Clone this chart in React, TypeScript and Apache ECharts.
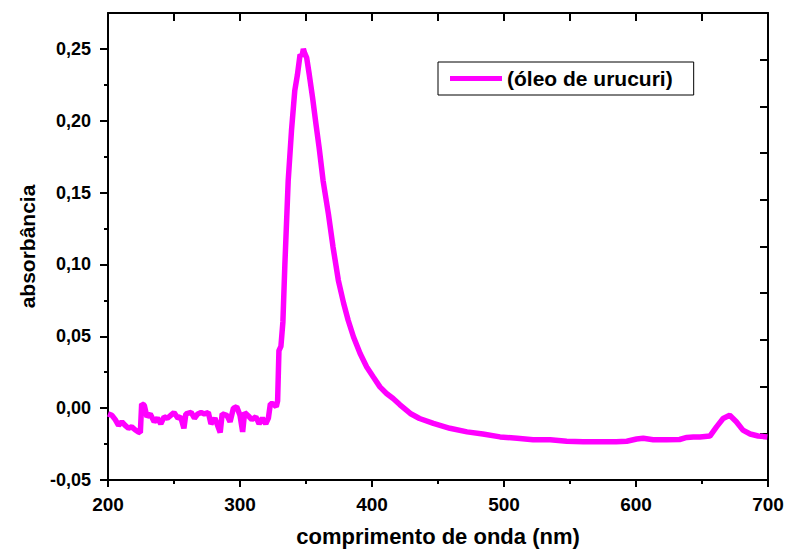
import React, { useEffect, useRef } from 'react';
import * as echarts from 'echarts';

// wavelength (nm)
const wavelength = [
  200, 203, 205.5, 208, 210.5, 213, 215.5, 218, 220.5, 223, 224.5, 225.5, 227.5, 229.5, 232, 235,
  237.5, 240, 242.5, 245, 247.5, 250, 253, 255, 257.5, 259, 263, 265.5, 268, 270.5, 273, 276,
  278, 281, 283, 285, 286.5, 290, 292.5, 295, 297.5, 300, 302, 303.5, 307, 309, 312, 314.5,
  317, 319.5, 321.5, 323, 325, 327.5, 328.5, 329.5, 331, 332.5, 334, 336.5, 339, 341.5, 343.5,
  345.5, 347, 348, 349, 350.5, 352.5, 355, 357.5, 360, 363, 367, 370.5, 374.5, 378.5, 382,
  386, 391, 396, 401, 406, 411, 416, 421, 429, 436, 446.5, 459, 472, 484, 497, 510, 522, 535,
  547.5, 560, 573, 585, 593, 600.5, 605.5, 613, 623, 633, 638.5, 643.5, 648.5, 656, 661, 666,
  671, 676, 681, 686.5, 692.5, 699.5,
];

// absorbance
const absorbance = [
  -0.004, -0.005, -0.008, -0.012, -0.0095, -0.012, -0.014, -0.013, -0.015, -0.0165, -0.017, 0.003,
  0.002, -0.006, -0.004, -0.0095, -0.007, -0.011, -0.006, -0.007, -0.005, -0.003, -0.007, -0.006,
  -0.014, -0.004, -0.003, -0.007, -0.004, -0.003, -0.004, -0.003, -0.011, -0.007, -0.012, -0.017,
  -0.004, -0.005, -0.0095, 0.0, 0.001, -0.005, -0.0165, -0.003, -0.006, -0.008, -0.006, -0.011,
  -0.007, -0.011, -0.007, 0.003, 0.003, 0.001, 0.005, 0.04, 0.043, 0.06, 0.1, 0.158, 0.193,
  0.221, 0.232, 0.246, 0.245, 0.25, 0.247, 0.244, 0.232, 0.216, 0.198, 0.181, 0.158, 0.135,
  0.112, 0.089, 0.073, 0.061, 0.0495, 0.038, 0.0287, 0.0217, 0.0148, 0.0102, 0.0067, 0.0025,
  -0.0037, -0.0072, -0.0106, -0.014, -0.0165, -0.018, -0.02, -0.021, -0.022, -0.022, -0.023,
  -0.0234, -0.0234, -0.0234, -0.023, -0.0215, -0.021, -0.022, -0.022, -0.0218, -0.0204, -0.02,
  -0.02, -0.0194, -0.013, -0.0072, -0.005, -0.0095, -0.0153, -0.018, -0.0194, -0.02,
];

const xTickLabels = [200, 300, 400, 500, 600, 700];
const yTickValues = [-0.05, 0, 0.05, 0.1, 0.15, 0.2, 0.25];
const yMinorValues = [-0.025, 0.025, 0.075, 0.125, 0.175, 0.225];
const seriesName = '(óleo de urucuri)';
const xTitle = 'comprimento de onda (nm)';
const yTitle = 'absorbância';

export default function App() {
  const ref = useRef<HTMLDivElement>(null);

  useEffect(() => {
    if (!ref.current) return;
    const chart = echarts.init(ref.current, null, { renderer: 'svg' });
    const font = '"Liberation Sans", Arial, Helvetica, sans-serif';
    const black = '#000';
    const data = wavelength.map((w, i) => [w, absorbance[i]]);
    const gridRect = { left: 108, right: 19, top: 13, bottom: 74 };
    const line = { color: black, width: 2 };

    chart.setOption({
      animation: false,
      backgroundColor: '#fff',
      grid: [
        { ...gridRect, containLabel: false },
        { ...gridRect, containLabel: false },
      ],
      legend: {
        left: 438,
        top: 62,
        icon: 'rect',
        itemWidth: 52,
        itemHeight: 5,
        borderColor: black,
        borderWidth: 1,
        padding: [6, 21, 6, 12],
        textStyle: { fontSize: 21, fontWeight: 'bold', color: black, fontFamily: font },
        data: [{ name: seriesName, icon: 'rect' }],
      },
      xAxis: [
        {
          type: 'value',
          gridIndex: 0,
          position: 'bottom',
          min: xTickLabels[0],
          max: xTickLabels[xTickLabels.length - 1],
          interval: 100,
          name: xTitle,
          nameLocation: 'middle',
          nameGap: 45,
          nameTextStyle: { fontSize: 22, fontWeight: 'bold', color: black, fontFamily: font },
          axisLine: { show: true, onZero: false, lineStyle: line },
          axisTick: { show: true, inside: false, length: 7, lineStyle: line },
          minorTick: { show: true, splitNumber: 2, length: 4, lineStyle: line },
          axisLabel: { fontSize: 19, fontWeight: 'bold', color: black, fontFamily: font, margin: 15 },
          splitLine: { show: false },
        },
        {
          type: 'value',
          gridIndex: 0,
          position: 'top',
          min: 200,
          max: 700,
          interval: 50,
          axisLine: { show: true, onZero: false, lineStyle: line },
          axisTick: { show: true, inside: true, length: 8, lineStyle: line },
          axisLabel: { show: false },
          splitLine: { show: false },
        },
        {
          type: 'value',
          gridIndex: 1,
          show: false,
          min: 200,
          max: 700,
        },
      ],
      yAxis: [
        {
          type: 'value',
          gridIndex: 0,
          position: 'left',
          min: -0.05,
          max: 0.275,
          interval: 0.05,
          name: yTitle,
          nameLocation: 'middle',
          nameRotate: 90,
          nameGap: 70,
          nameTextStyle: { fontSize: 21, fontWeight: 'bold', color: black, fontFamily: font },
          axisLine: { show: true, onZero: false, lineStyle: line },
          axisTick: { show: true, inside: false, length: 8, lineStyle: line, customValues: yTickValues },
          axisLabel: {
            fontSize: 18,
            fontWeight: 'bold',
            color: black,
            fontFamily: font,
            margin: 17,
            customValues: yTickValues,
            formatter: (v: number) => (v > 0.26 ? '' : v.toFixed(2).replace('.', ',')),
          },
          splitLine: { show: false },
        },
        {
          type: 'value',
          gridIndex: 0,
          position: 'right',
          min: 0,
          max: 10,
          interval: 1,
          axisLine: { show: true, onZero: false, lineStyle: line },
          axisTick: { show: true, inside: true, length: 8, lineStyle: line },
          axisLabel: { show: false },
          splitLine: { show: false },
        },
        {
          type: 'value',
          gridIndex: 1,
          position: 'left',
          min: -0.05,
          max: 0.275,
          axisLine: { show: false },
          axisTick: { show: true, inside: false, length: 4, lineStyle: line, customValues: yMinorValues },
          axisLabel: { show: false },
          splitLine: { show: false },
        },
      ],
      series: [
        {
          name: seriesName,
          type: 'line',
          xAxisIndex: 0,
          yAxisIndex: 0,
          data,
          showSymbol: false,
          symbol: 'none',
          lineStyle: { color: '#ff00ff', width: 5.5 },
          itemStyle: { color: '#ff00ff' },
          z: 1,
        },
      ],
    });

    return () => chart.dispose();
  }, []);

  return (
    <div
      ref={ref}
      style={{ position: 'absolute', left: 0, top: 0, width: 787, height: 554, background: '#fff' }}
    />
  );
}
